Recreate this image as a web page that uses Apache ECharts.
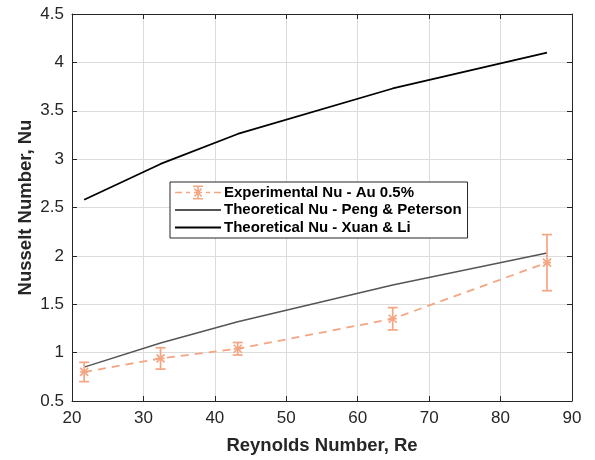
<!DOCTYPE html>
<html><head><meta charset="utf-8">
<script src="https://cdn.jsdelivr.net/npm/echarts@6/dist/echarts.min.js"></script>
<style>html,body{margin:0;padding:0;background:#fff}#c{width:595px;height:460px}</style>
</head><body><div id="c"></div>
<script>
const re = [21.7, 32.4, 43.2, 64.9, 86.5];
const nuExp = [0.80, 0.94, 1.04, 1.35, 1.93];
const nuErr = [0.10, 0.11, 0.065, 0.115, 0.29];
const nuPeng = [0.85, 1.10, 1.32, 1.70, 2.03];
const nuXuan = [2.58, 2.95, 3.26, 3.73, 4.10];
const xTicks = [20, 30, 40, 50, 60, 70, 80, 90];
const yTicks = [0.5, 1, 1.5, 2, 2.5, 3, 3.5, 4, 4.5];

const expName = 'Experimental Nu - Au 0.5%';
const pengName = 'Theoretical Nu - Peng & Peterson';
const xuanName = 'Theoretical Nu - Xuan & Li';
const expColor = '#f4a582';
const axisColor = '#262626';
const font = 'Liberation Sans, Arial, sans-serif';

// legend glyph (46 x 14): dashes either side of an error bar with an asterisk marker
const errIcon = 'path://M0,6.2H7V7.8H0Z M39,6.2H46V7.8H39Z M11,6.2H15V7.8H11Z M31,6.2H35V7.8H31Z' +
  ' M18,0H28V1.5H18Z M18,12.5H28V14H18Z M22.2,0H23.8V14H22.2Z' +
  ' M18.8,3.6L19.9,2.6L27.2,10.4L26.1,11.4Z M26.1,2.6L27.2,3.6L19.9,11.4L18.8,10.4Z M19,6.2H27V7.8H19Z';

const chart = echarts.init(document.getElementById('c'), null, {renderer: 'canvas'});
const pair = (ys) => re.map((x, i) => [x, ys[i]]);
const errData = re.map((x, i) => [x, nuExp[i], nuExp[i] - nuErr[i], nuExp[i] + nuErr[i]]);

const baseAxis = {
  axisLine: {show: true, lineStyle: {color: axisColor, width: 1}},
  axisTick: {show: true, inside: true, length: 5, lineStyle: {color: axisColor}},
};

chart.setOption({
  animation: false,
  backgroundColor: '#fff',
  grid: {left: 72, right: 23, top: 14, bottom: 56, containLabel: false},
  legend: {
    orient: 'vertical', left: 170, top: 182,
    backgroundColor: '#fff', borderColor: axisColor, borderWidth: 1, borderRadius: 0,
    padding: [2, 6, 2, 4], itemGap: 0.5, itemWidth: 46, itemHeight: 14,
    itemStyle: {opacity: 0},
    textStyle: {fontFamily: font, fontWeight: 'bold', fontSize: 15, lineHeight: 17, color: '#000', padding: [0, 0, 0, -2]},
    data: [
      {name: expName, icon: errIcon, itemStyle: {color: expColor, opacity: 1}},
      {name: pengName},
      {name: xuanName}
    ]
  },
  xAxis: [
    Object.assign({}, baseAxis, {
      type: 'value', min: 20, max: 90, interval: 10,
      name: 'Reynolds Number, Re', nameLocation: 'middle', nameGap: 35, nameMoveOverlap: false,
      nameTextStyle: {fontFamily: font, fontWeight: 'bold', fontSize: 18.5, color: axisColor},
      axisLabel: {fontFamily: font, fontSize: 17, color: axisColor, margin: 9,
        formatter: v => xTicks.includes(v) ? String(v) : ''},
      splitLine: {show: true, lineStyle: {color: '#dcdcdc', width: 1}}
    }),
    Object.assign({}, baseAxis, {
      type: 'value', min: 20, max: 90, interval: 10, position: 'top',
      axisLabel: {show: false}, splitLine: {show: false}
    })
  ],
  yAxis: [
    Object.assign({}, baseAxis, {
      type: 'value', min: 0.5, max: 4.5, interval: 0.5,
      name: 'Nusselt Number, Nu', nameLocation: 'middle', nameGap: 37, nameMoveOverlap: false,
      nameTextStyle: {fontFamily: font, fontWeight: 'bold', fontSize: 18.5, color: axisColor},
      axisLabel: {fontFamily: font, fontSize: 17, color: axisColor, margin: 8,
        formatter: v => yTicks.includes(v) ? String(v) : ''},
      splitLine: {show: true, lineStyle: {color: '#dcdcdc', width: 1}}
    }),
    Object.assign({}, baseAxis, {
      type: 'value', min: 0.5, max: 4.5, interval: 0.5, position: 'right',
      axisLabel: {show: false}, splitLine: {show: false}
    })
  ],
  series: [
    {
      name: expName, type: 'line', data: pair(nuExp), symbol: 'none',
      lineStyle: {color: expColor, width: 1.8, type: [8, 6]},
      itemStyle: {color: expColor}, z: 3
    },
    {
      name: expName, type: 'custom', data: errData, z: 4,
      itemStyle: {color: expColor},
      renderItem: function (params, api) {
        const c = api.coord([api.value(0), api.value(1)]);
        const lo = api.coord([api.value(0), api.value(2)]);
        const hi = api.coord([api.value(0), api.value(3)]);
        const w = 5, s = 4;
        const st = {stroke: expColor, lineWidth: 1.7};
        const line = (x1, y1, x2, y2) => ({type: 'line', shape: {x1, y1, x2, y2}, style: st});
        return {type: 'group', children: [
          line(lo[0], lo[1], hi[0], hi[1]),
          line(lo[0] - w, lo[1], lo[0] + w, lo[1]),
          line(hi[0] - w, hi[1], hi[0] + w, hi[1]),
          line(c[0] - s, c[1] - s, c[0] + s, c[1] + s),
          line(c[0] - s, c[1] + s, c[0] + s, c[1] - s),
          line(c[0] - s, c[1], c[0] + s, c[1])
        ]};
      }
    },
    {
      name: pengName, type: 'line', data: pair(nuPeng), symbol: 'none',
      lineStyle: {color: '#555555', width: 1.5}, itemStyle: {color: '#555555'}, z: 2
    },
    {
      name: xuanName, type: 'line', data: pair(nuXuan), symbol: 'none',
      lineStyle: {color: '#000', width: 1.8}, itemStyle: {color: '#000'}, z: 2
    }
  ]
});
</script>
</body></html>
